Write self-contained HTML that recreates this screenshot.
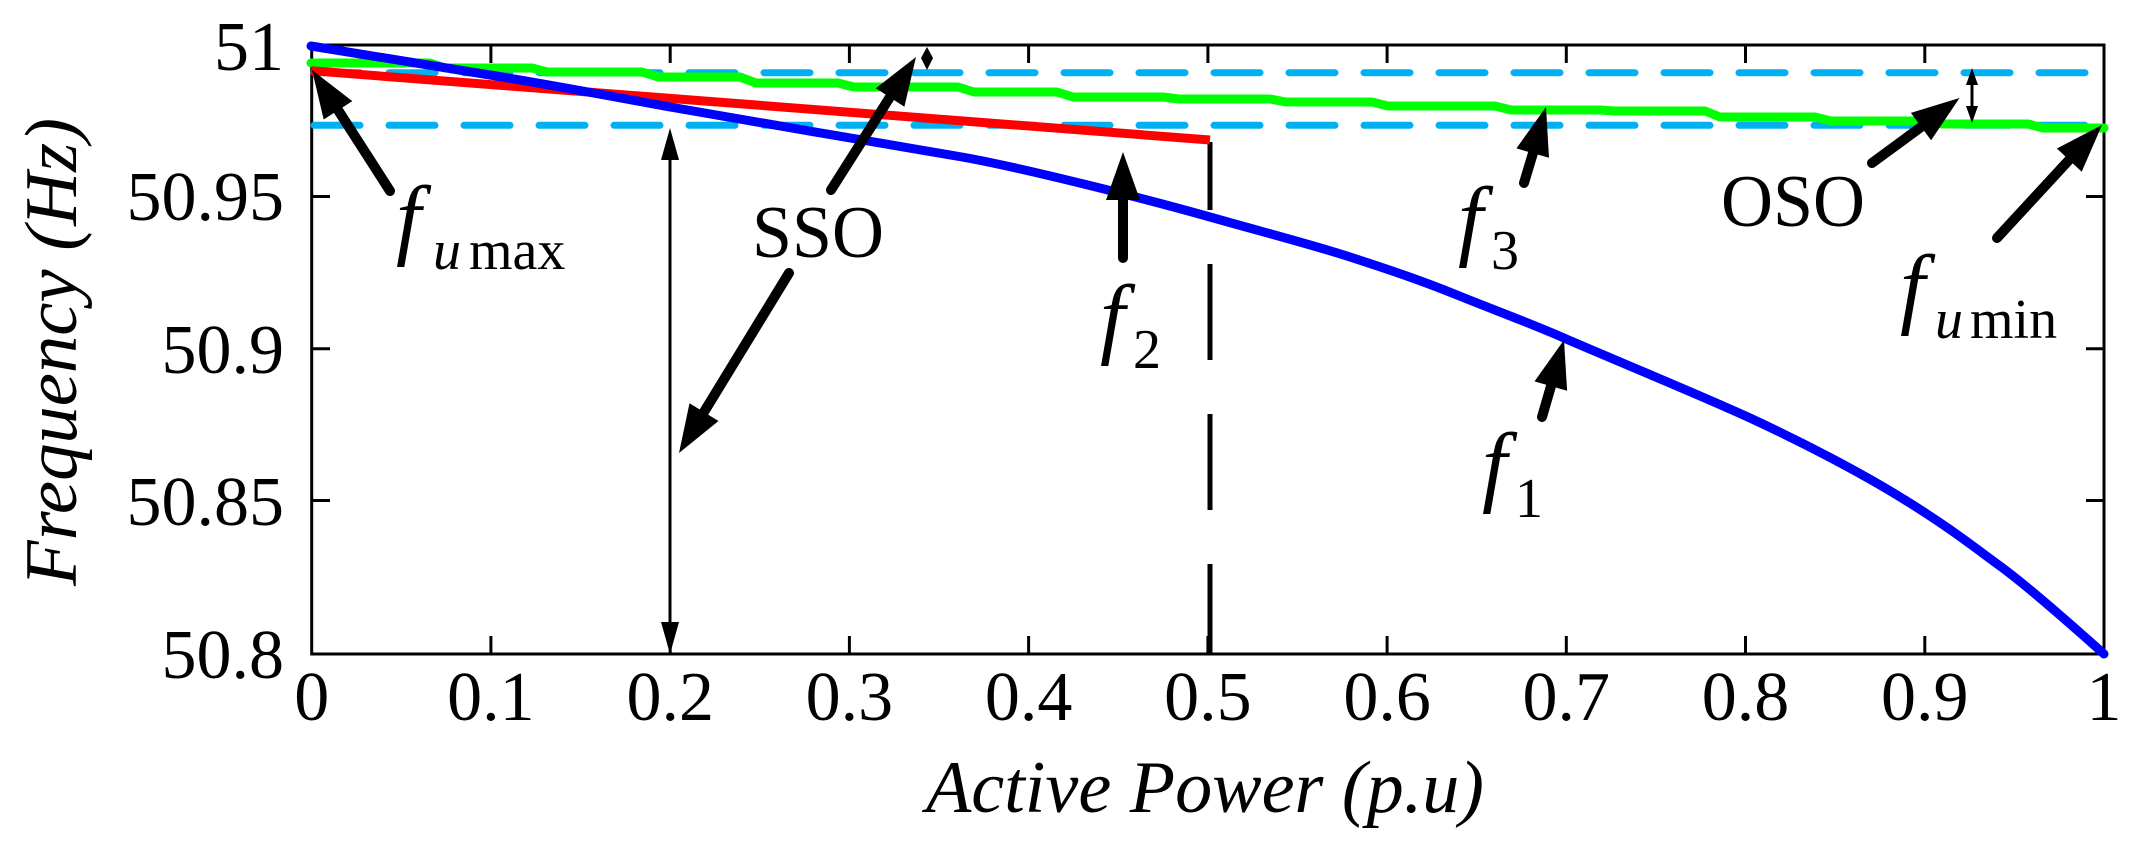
<!DOCTYPE html>
<html><head><meta charset="utf-8"><style>html,body{margin:0;padding:0;background:#fff}svg{display:block}text{font-family:"Liberation Serif",serif}</style></head>
<body>
<svg width="2141" height="844" viewBox="0 0 2141 844" xmlns="http://www.w3.org/2000/svg">
<rect x="311.7" y="45" width="1792.3" height="609" fill="none" stroke="#000" stroke-width="3"/>
<g stroke="#000" stroke-width="3">
<line x1="490.9" y1="45" x2="490.9" y2="63"/><line x1="670.2" y1="45" x2="670.2" y2="63"/><line x1="849.4" y1="45" x2="849.4" y2="63"/><line x1="1028.6" y1="45" x2="1028.6" y2="63"/><line x1="1207.9" y1="45" x2="1207.9" y2="63"/><line x1="1387.1" y1="45" x2="1387.1" y2="63"/><line x1="1566.3" y1="45" x2="1566.3" y2="63"/><line x1="1745.5" y1="45" x2="1745.5" y2="63"/><line x1="1924.8" y1="45" x2="1924.8" y2="63"/>
<line x1="490.9" y1="654" x2="490.9" y2="636"/><line x1="670.2" y1="654" x2="670.2" y2="636"/><line x1="849.4" y1="654" x2="849.4" y2="636"/><line x1="1028.6" y1="654" x2="1028.6" y2="636"/><line x1="1207.9" y1="654" x2="1207.9" y2="636"/><line x1="1387.1" y1="654" x2="1387.1" y2="636"/><line x1="1566.3" y1="654" x2="1566.3" y2="636"/><line x1="1745.5" y1="654" x2="1745.5" y2="636"/><line x1="1924.8" y1="654" x2="1924.8" y2="636"/>
<line x1="311.7" y1="196.5" x2="330" y2="196.5"/><line x1="311.7" y1="348.8" x2="330" y2="348.8"/><line x1="311.7" y1="500.5" x2="330" y2="500.5"/>
<line x1="2104" y1="196.5" x2="2086" y2="196.5"/><line x1="2104" y1="348.8" x2="2086" y2="348.8"/><line x1="2104" y1="500.5" x2="2086" y2="500.5"/>
</g>
<g font-size="70" fill="#000" text-anchor="end">
<text x="284" y="70">51</text><text x="284" y="220">50.95</text><text x="284" y="373">50.9</text><text x="284" y="525">50.85</text><text x="284" y="678">50.8</text>
</g>
<g font-size="70" fill="#000" text-anchor="middle">
<text x="311.7" y="720">0</text><text x="490.9" y="720">0.1</text><text x="670.2" y="720">0.2</text><text x="849.4" y="720">0.3</text><text x="1028.6" y="720">0.4</text><text x="1207.9" y="720">0.5</text><text x="1387.1" y="720">0.6</text><text x="1566.3" y="720">0.7</text><text x="1745.5" y="720">0.8</text><text x="1924.8" y="720">0.9</text><text x="2104" y="720">1</text>
</g>
<text x="1205" y="812" font-size="74" font-style="italic" text-anchor="middle" textLength="558" lengthAdjust="spacingAndGlyphs">Active Power (p.u)</text>
<text transform="translate(76,352) rotate(-90)" font-size="74" font-style="italic" text-anchor="middle" textLength="468" lengthAdjust="spacingAndGlyphs">Frequency (Hz)</text>
<g stroke="#00b0f0" stroke-width="7" stroke-linecap="round" stroke-dasharray="46 29">
<line x1="314" y1="72.7" x2="2104" y2="72.7"/><line x1="314" y1="125.3" x2="2104" y2="125.3"/>
</g>
<line x1="1210" y1="142" x2="1210" y2="654" stroke="#000" stroke-width="5" stroke-dasharray="96 54" stroke-dashoffset="28"/>
<polyline fill="none" stroke="#00ff00" stroke-width="9" stroke-linejoin="round" stroke-linecap="round" points="311,63 430,63 445,68 532,68 547,72 642,72 658,77 740,77 756,83 838,83 854,87 958,87 974,92 1057,92 1073,97 1163,97 1179,99 1270,99 1286,102 1372,102 1388,106 1495,106 1511,110 1600,110 1614,111 1705,111 1720,117 1815,117 1831,121 1926,121 1942,124 2028,124 2043,128 2104,128"/>
<line x1="311" y1="70.7" x2="1210" y2="140" stroke="#ff0000" stroke-width="9"/>
<path fill="none" stroke="#0000ff" stroke-width="9" stroke-linecap="round" stroke-linejoin="round" d="M311,46 C400,60 440,67 490,75 S610,96 670,107 S900,146 962,157 S1150,200 1210,217 S1310,244 1350,257 S1420,280 1457,295 S1530,323 1564,338 S1700,395 1750,418 S1860,472 1905,500 S1970,544 2000,566 S2075,628 2104,654"/>
<!-- thin double arrows -->
<line x1="670" y1="150" x2="670" y2="632" stroke="#000" stroke-width="3"/>
<polygon points="670,128 661,160 679,160" fill="#000"/><polygon points="670,654 661,622 679,622" fill="#000"/>
<line x1="1972" y1="80" x2="1972" y2="112" stroke="#000" stroke-width="3"/>
<polygon points="1972,68 1966,85 1978,85" fill="#000"/><polygon points="1972,123 1966,106 1978,106" fill="#000"/>
<polygon points="927,47 933,58 927,70 921,58" fill="#000"/>
<!-- fat arrows -->
<g stroke="#000" stroke-width="10" stroke-linecap="round" fill="none">
<line x1="390" y1="191" x2="338" y2="110"/>
<line x1="831" y1="190" x2="890" y2="97"/>
<line x1="789" y1="273" x2="704" y2="412"/>
<line x1="1123" y1="258" x2="1123" y2="200"/>
<line x1="1524" y1="183" x2="1533" y2="153"/>
<line x1="1542" y1="417" x2="1551" y2="386"/>
<line x1="1872" y1="163" x2="1921" y2="127"/>
<line x1="1997" y1="238" x2="2069" y2="160"/>
</g>
<g fill="#000">
<polygon points="312,70 352.3,101.1 323.7,119.5"/>
<polygon points="916,57 904.4,106.7 875.8,88.3"/>
<polygon points="679,453 718.5,421 689.5,403.2"/>
<polygon points="1123,152 1140,200 1106,200"/>
<polygon points="1546,107 1549,157.8 1516.4,148.4"/>
<polygon points="1564,340 1567.1,390.8 1534.5,381.4"/>
<polygon points="1959.5,98 1931.1,140.3 1910.9,112.9"/>
<polygon points="2102,125 2081.7,171.7 2056.9,148.5"/>
</g>
<g fill="#000">
<text x="752" y="257" font-size="74" textLength="132" lengthAdjust="spacingAndGlyphs">SSO</text>
<text x="1721" y="226" font-size="74" textLength="144" lengthAdjust="spacingAndGlyphs">OSO</text>
<text x="396" y="248" font-size="90" font-style="italic">f</text><text x="433" y="269" font-size="56" font-style="italic">u</text><text x="469" y="269" font-size="56">max</text>
<text x="1100" y="347" font-size="90" font-style="italic">f</text><text x="1133" y="368" font-size="56">2</text>
<text x="1458" y="249" font-size="90" font-style="italic">f</text><text x="1491" y="269" font-size="56">3</text>
<text x="1482" y="495" font-size="90" font-style="italic">f</text><text x="1515" y="517" font-size="56">1</text>
<text x="1900" y="317" font-size="90" font-style="italic">f</text><text x="1935" y="338" font-size="56" font-style="italic">u</text><text x="1970" y="338" font-size="56">min</text>
</g>
</svg>
</body></html>
